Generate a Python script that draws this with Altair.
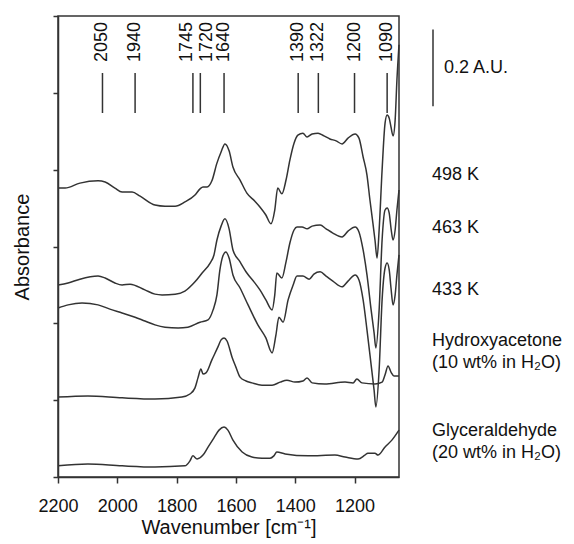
import altair as alt
import pandas as pd

# ---- spectra (wavenumber cm-1, absorbance A.U., offset stacked) ----
wn_498 = [2200, 2176, 2126, 2065, 2041, 2008, 1984, 1950, 1923, 1873, 1839, 1805, 1772, 1738,
          1721, 1711, 1697, 1681, 1664, 1650, 1637, 1623, 1610, 1586, 1563, 1536, 1519, 1499,
          1482, 1469, 1459, 1445, 1431, 1418, 1404, 1391, 1374, 1360, 1343, 1323, 1303, 1283,
          1262, 1242, 1222, 1198, 1185, 1171, 1158, 1148, 1138, 1131, 1124, 1117, 1107, 1097,
          1090, 1083, 1077, 1070, 1063, 1057, 1050]
ab_498 = [0.752, 0.752, 0.765, 0.771, 0.768, 0.752, 0.742, 0.742, 0.731, 0.708, 0.705, 0.705, 0.716, 0.734,
          0.750, 0.755, 0.755, 0.771, 0.817, 0.846, 0.867, 0.849, 0.807, 0.773, 0.739, 0.718, 0.703, 0.682,
          0.659, 0.695, 0.752, 0.737, 0.773, 0.825, 0.869, 0.890, 0.895, 0.885, 0.893, 0.895, 0.888, 0.880,
          0.875, 0.867, 0.882, 0.893, 0.882, 0.833, 0.786, 0.721, 0.661, 0.617, 0.570, 0.643, 0.799, 0.921,
          0.942, 0.934, 0.911, 0.888, 0.929, 1.033, 1.125]

wn_463 = [2200, 2166, 2126, 2065, 2041, 2008, 1984, 1957, 1907, 1873, 1849, 1805, 1772, 1738,
          1714, 1687, 1674, 1664, 1650, 1637, 1623, 1610, 1586, 1563, 1539, 1519, 1499, 1478,
          1469, 1462, 1445, 1431, 1418, 1404, 1394, 1377, 1360, 1343, 1316, 1296, 1273, 1242,
          1222, 1198, 1185, 1171, 1158, 1144, 1134, 1128, 1117, 1107, 1097, 1090, 1083, 1077,
          1070, 1063, 1057, 1050]
ab_463 = [0.500, 0.505, 0.515, 0.523, 0.518, 0.505, 0.500, 0.502, 0.487, 0.476, 0.474, 0.476, 0.484, 0.508,
          0.531, 0.557, 0.578, 0.617, 0.653, 0.672, 0.646, 0.591, 0.560, 0.531, 0.508, 0.487, 0.461, 0.435,
          0.474, 0.531, 0.518, 0.560, 0.609, 0.643, 0.651, 0.651, 0.646, 0.653, 0.656, 0.646, 0.635, 0.625,
          0.640, 0.651, 0.638, 0.591, 0.526, 0.435, 0.375, 0.336, 0.435, 0.617, 0.695, 0.700, 0.687, 0.648,
          0.617, 0.643, 0.695, 0.747]

wn_433 = [2200, 2166, 2119, 2065, 2025, 1984, 1940, 1907, 1873, 1839, 1795, 1762, 1721, 1694,
          1677, 1664, 1654, 1644, 1634, 1623, 1610, 1586, 1559, 1526, 1499, 1478, 1465, 1455,
          1441, 1424, 1407, 1394, 1374, 1353, 1337, 1316, 1296, 1273, 1242, 1222, 1198, 1185,
          1171, 1158, 1144, 1134, 1128, 1117, 1107, 1097, 1090, 1083, 1077, 1070, 1063, 1057, 1050]
ab_433 = [0.440, 0.448, 0.453, 0.448, 0.437, 0.427, 0.416, 0.406, 0.396, 0.390, 0.388, 0.390, 0.403, 0.409,
          0.435, 0.474, 0.539, 0.575, 0.586, 0.570, 0.526, 0.492, 0.448, 0.396, 0.362, 0.323, 0.370, 0.416,
          0.403, 0.461, 0.500, 0.523, 0.523, 0.515, 0.528, 0.534, 0.523, 0.510, 0.495, 0.510, 0.526, 0.513,
          0.461, 0.383, 0.292, 0.226, 0.182, 0.279, 0.461, 0.544, 0.557, 0.539, 0.492, 0.448, 0.474, 0.526, 0.578]

wn_hyd = [2200, 2099, 1984, 1873, 1782, 1755, 1738, 1728, 1718, 1711, 1701, 1681, 1661, 1650,
          1640, 1630, 1613, 1600, 1586, 1566, 1546, 1512, 1478, 1451, 1428, 1401, 1374, 1360,
          1343, 1300, 1232, 1205, 1192, 1175, 1131, 1107, 1097, 1087, 1077, 1067, 1050]
ab_hyd = [0.208, 0.211, 0.206, 0.203, 0.208, 0.216, 0.232, 0.258, 0.281, 0.268, 0.271, 0.305, 0.338, 0.357,
          0.362, 0.354, 0.312, 0.286, 0.260, 0.250, 0.245, 0.239, 0.239, 0.247, 0.252, 0.247, 0.250, 0.258,
          0.245, 0.242, 0.247, 0.245, 0.255, 0.245, 0.242, 0.247, 0.266, 0.289, 0.273, 0.263, 0.263]

wn_gly = [2200, 2099, 1984, 1873, 1772, 1755, 1745, 1731, 1711, 1694, 1674, 1657, 1640, 1627,
          1610, 1579, 1546, 1512, 1485, 1472, 1462, 1434, 1357, 1266, 1232, 1188, 1165, 1155,
          1131, 1121, 1097, 1074, 1050]
ab_gly = [0.029, 0.034, 0.029, 0.026, 0.029, 0.042, 0.055, 0.047, 0.057, 0.078, 0.102, 0.122, 0.130, 0.122,
          0.096, 0.065, 0.052, 0.049, 0.049, 0.055, 0.065, 0.060, 0.055, 0.057, 0.052, 0.047, 0.057, 0.062,
          0.062, 0.057, 0.078, 0.096, 0.122]

series_names = ["498 K", "463 K", "433 K", "Hydroxyacetone", "Glyceraldehyde"]
series_wn = [wn_498, wn_463, wn_433, wn_hyd, wn_gly]
series_ab = [ab_498, ab_463, ab_433, ab_hyd, ab_gly]

peak_positions = [2050, 1940, 1745, 1720, 1640, 1390, 1322, 1200, 1090]

scale_bar_top = 1.165
scale_bar_length = 0.2

x_ticks = [2200, 2000, 1800, 1600, 1400, 1200]
y_ticks = [0, 0.2, 0.4, 0.6, 0.8, 1.0, 1.2]

# ---- tables ----
rows = []
for name, wns, abs_ in zip(series_names, series_wn, series_ab):
    for w, a in zip(wns, abs_):
        rows.append({"series": name, "wn": w, "ab": a})
spec_df = pd.DataFrame(rows)
peaks_df = pd.DataFrame({"wn": peak_positions, "label": [str(p) for p in peak_positions]})
bar_df = pd.DataFrame({"top": [scale_bar_top], "bot": [scale_bar_top - scale_bar_length],
                       "mid": [scale_bar_top - scale_bar_length / 2], "label": ["0.2 A.U."]})

FONT = "Liberation Sans"
INK = "#333333"
xscale = alt.Scale(domain=[2200, 1050], nice=False, zero=False)
yscale = alt.Scale(domain=[0, 1.2], nice=False, zero=False)

lines = alt.Chart(spec_df).mark_line(color=INK, strokeWidth=1.5, interpolate="monotone").encode(
    x=alt.X("wn:Q", scale=xscale, title="Wavenumber [cm⁻¹]",
            axis=alt.Axis(values=x_ticks, format="d",
                          grid=False, labelFontSize=18, titleFontSize=20,
                          labelFont=FONT, titleFont=FONT, titleFontWeight="normal",
                          labelColor="#111", titleColor="#111",
                          labelOverlap=False, labelFlush=False,
                          tickSize=6, labelPadding=14, titlePadding=2,
                          domainColor=INK, tickColor=INK, domainWidth=1.5, tickWidth=1.5)),
    y=alt.Y("ab:Q", scale=yscale, title="Absorbance",
            axis=alt.Axis(values=y_ticks, labels=False, grid=False,
                          titleFontSize=20, titleFont=FONT, titleFontWeight="normal",
                          titleColor="#111", tickSize=5, titlePadding=20,
                          domainColor=INK, tickColor=INK, domainWidth=1.5, tickWidth=1.5)),
    detail="series:N",
)

peak_rules = alt.Chart(peaks_df).mark_rule(color=INK, strokeWidth=1.5).encode(
    x=alt.X("wn:Q", scale=xscale, title="Wavenumber [cm⁻¹]"),
    y=alt.value(57), y2=alt.value(97),
)

def peak_text(filter_expr, shift):
    return alt.Chart(peaks_df).transform_filter(filter_expr).mark_text(
        angle=270, align="right", baseline="middle", fontSize=18, font=FONT,
        color="#111", dy=shift
    ).encode(
        x=alt.X("wn:Q", scale=xscale, title="Wavenumber [cm⁻¹]"),
        y=alt.value(6),
        text="label:N",
    )

pt_main = peak_text("datum.wn != 1745 && datum.wn != 1720", 0)
pt_1745 = peak_text("datum.wn == 1745", -6)
pt_1720 = peak_text("datum.wn == 1720", 7)

bar = alt.Chart(bar_df).mark_rule(color=INK, strokeWidth=1.5).encode(
    x=alt.value(375),
    y=alt.Y("top:Q", scale=yscale, title="Absorbance"),
    y2="bot:Q",
)
bar_text = alt.Chart(bar_df).mark_text(align="left", baseline="middle", fontSize=18,
                                       font=FONT, color="#111").encode(
    x=alt.value(386),
    y=alt.Y("mid:Q", scale=yscale, title="Absorbance"),
    text="label:N",
)

# right-hand labels: (text, pixel y within plot)
right_labels = [
    ("498 K", 159), ("463 K", 212), ("433 K", 274),
    ("Hydroxyacetone", 325), ("(10 wt% in H₂O)", 347),
    ("Glyceraldehyde", 415), ("(20 wt% in H₂O)", 437),
]
label_layers = []
for txt, ypx in right_labels:
    label_layers.append(
        alt.Chart(pd.DataFrame({"t": [txt]})).mark_text(
            align="left", baseline="middle", fontSize=18, font=FONT, color="#111"
        ).encode(x=alt.value(374), y=alt.value(ypx), text="t:N")
    )

chart = alt.layer(lines, peak_rules, pt_main, pt_1745, pt_1720, bar, bar_text, *label_layers).properties(
    width=341, height=461,
    padding={"left": 50, "top": 8, "right": 167, "bottom": 66},
    autosize="none",
    background="white",
).configure_view(stroke=INK, strokeWidth=1.5)

chart.save("out.html", embed_options={"renderer": "svg", "actions": False})
